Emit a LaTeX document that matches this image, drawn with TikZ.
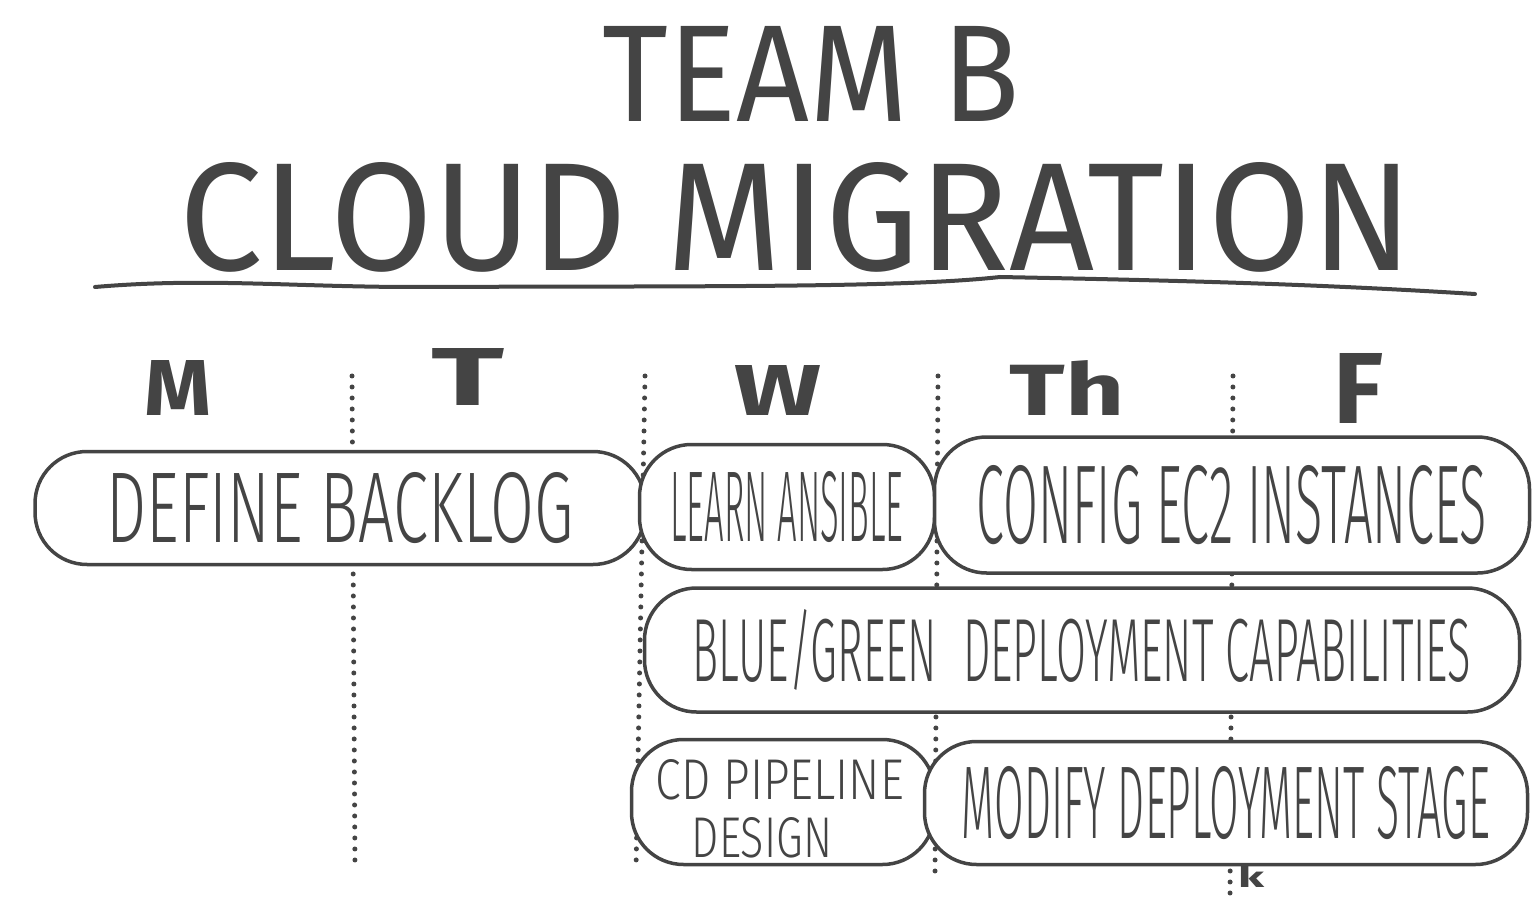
\documentclass[tikz,border=0pt]{standalone}
\usepackage{fontspec}
\usepackage{graphicx}
\usepackage{xcolor}
\usetikzlibrary{positioning}
\setmainfont{Fira Sans}
\newfontfamily\thinhand{Fira Sans Light}
\definecolor{ink}{HTML}{444444}
\newcommand{\hand}[3]{\resizebox{#1}{#2}{#3}}

\begin{document}
\begin{tikzpicture}[x=1pt,y=-1pt,
    task/.style={draw=ink, line width=3.5pt, fill=white, rounded corners=52pt,
        inner sep=0pt, text=ink, font=\thinhand, align=center},
    tasktext/.style={text=ink, inner sep=0pt, font=\thinhand},
    day/.style={text=ink, inner sep=0pt, font=\bfseries},
    daysep/.style={draw=ink, line width=5pt, line cap=round, dash pattern=on 0pt off 11pt}]
    \useasboundingbox (0,0) rectangle (1532,909);
    % title
    \node[text=ink, inner sep=0pt] (team) at (811,74) {\hand{417pt}{95pt}{TEAM B}};
    \node[text=ink, inner sep=0pt] (project) at (796,217) {\hand{1232pt}{108pt}{CLOUD MIGRATION}};
    \coordinate (ul-w) at (95,287);
    \coordinate (ul-e) at (1475,294);
    \draw[ink, line width=4pt, line cap=round] (ul-w) .. controls (200,278) and (280,286) .. (400,287)
        .. controls (700,286) and (900,288) .. (1000,277) .. controls (1150,280) and (1300,283) .. (ul-e);
    % days of the week
    \node[day] (mon) at (178,388) {\hand{67pt}{55pt}{M}};
    \node[day] (tue) at (468,377) {\hand{73pt}{57pt}{T}};
    \node[day] (wed) at (778,390) {\hand{87pt}{50pt}{W}};
    \node[day] (thu) at (1067,388) {\hand{115pt}{55pt}{Th}};
    \node[day] (fri) at (1358,388) {\hand{50pt}{70pt}{F}};
    % dotted separators
    \foreach \n/\xt/\xb/\yb in {1/352/355/870, 2/645/636/870, 3/938/935/875, 4/1233/1230/900} {
        \coordinate (sep\n-top) at (\xt,376);
        \coordinate (sep\n-bot) at (\xb,\yb);
        \draw[daysep] (sep\n-top) -- (sep\n-bot);
    }
    % tasks
    \node[task, minimum width=610pt, minimum height=113pt] (backlog) at (340,508)
        {\hand{467pt}{70pt}{DEFINE BACKLOG}};
    \node[task, minimum width=295pt, minimum height=125pt] (ansible) at (787,507)
        {\hand{233pt}{70pt}{LEARN ANSIBLE}};
    \node[task, minimum width=595pt, minimum height=136pt] (ec2) at (1232,505)
        {\hand{510pt}{78pt}{CONFIG EC2 INSTANCES}};
    \node[task, minimum width=875pt, minimum height=124pt] (bluegreen) at (1082,650)
        {\hand{778pt}{72pt}{BLUE/GREEN\hspace{6pt}DEPLOYMENT CAPABILITIES}};
    \node[task, minimum width=303pt, minimum height=125pt] (pipeline) at (783,802) {};
    \node[tasktext] (pipeline-a) at (780,780) {\hand{248pt}{40pt}{CD PIPELINE}};
    \node[tasktext] (pipeline-b) at (762,838) {\hand{140pt}{40pt}{DESIGN}};
    \node[task, minimum width=603pt, minimum height=123pt] (stage) at (1226,803)
        {\hand{528pt}{72pt}{MODIFY DEPLOYMENT STAGE}};
    \node[day] (initial) at (1251,876) {\hand{26pt}{22pt}{k}};
\end{tikzpicture}
\end{document}
